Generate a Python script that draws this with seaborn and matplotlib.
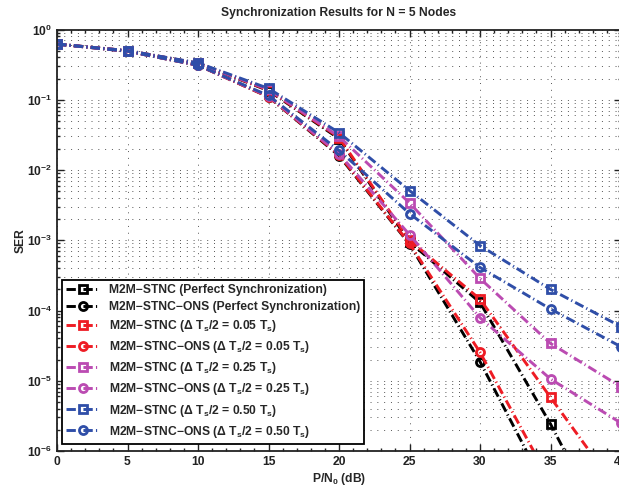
import numpy as np
import pandas as pd
import matplotlib
matplotlib.use('Agg')
import matplotlib.pyplot as plt
from matplotlib.ticker import LogLocator, MultipleLocator, FuncFormatter, NullFormatter
import seaborn as sns

# SER, one list per curve
snr_db = [0, 5, 10, 15, 20, 25, 30, 35, 40]
stnc_perfect = [0.62, 0.50, 0.33, 0.135, 0.028, 0.00095, 0.00013, 2.42e-6, 2.9e-8]
ons_perfect = [0.62, 0.49, 0.31, 0.110, 0.016, 0.00088, 1.87e-5, 2.2e-7, np.nan]
stnc_005 = [0.62, 0.50, 0.33, 0.137, 0.029, 0.0010, 0.000145, 5.8e-6, 2.4e-7]
ons_005 = [0.62, 0.49, 0.31, 0.110, 0.0165, 0.0009, 2.54e-5, 3.6e-7, np.nan]
stnc_025 = [0.62, 0.50, 0.33, 0.140, 0.030, 0.0034, 0.000286, 3.4e-5, 8.2e-6]
ons_025 = [0.62, 0.49, 0.31, 0.112, 0.017, 0.0012, 7.9e-5, 1.06e-5, 2.5e-6]
stnc_050 = [0.62, 0.50, 0.335, 0.145, 0.034, 0.0051, 0.00084, 0.0002, 5.9e-5]
ons_050 = [0.62, 0.49, 0.31, 0.115, 0.019, 0.0024, 0.00041, 0.000105, 3.05e-5]

labels = [
    'M2M\u2212STNC (Perfect Synchronization)',
    'M2M\u2212STNC\u2212ONS (Perfect Synchronization)',
    'M2M\u2212STNC (\u0394 T$_s$/2 = 0.05 T$_s$)',
    'M2M\u2212STNC\u2212ONS (\u0394 T$_s$/2 = 0.05 T$_s$)',
    'M2M\u2212STNC (\u0394 T$_s$/2 = 0.25 T$_s$)',
    'M2M\u2212STNC\u2212ONS (\u0394 T$_s$/2 = 0.25 T$_s$)',
    'M2M\u2212STNC (\u0394 T$_s$/2 = 0.50 T$_s$)',
    'M2M\u2212STNC\u2212ONS (\u0394 T$_s$/2 = 0.50 T$_s$)',
]
series = [stnc_perfect, ons_perfect, stnc_005, ons_005,
          stnc_025, ons_025, stnc_050, ons_050]
colors = ['#000000', '#000000', '#EE1C24', '#EE1C24',
          '#BB4BB2', '#BB4BB2', '#2F4EA8', '#2F4EA8']
markers = ['s', 'o', 's', 'o', 's', 'o', 's', 'o']

sns.set_style('ticks')
plt.rcParams.update({
    'font.family': ['Liberation Sans', 'DejaVu Sans'],
    'font.weight': 'bold',
    'font.size': 8.7,
    'mathtext.fontset': 'custom',
    'mathtext.rm': 'Liberation Sans:bold',
    'mathtext.it': 'Liberation Sans:bold',
    'mathtext.bf': 'Liberation Sans:bold',
    'mathtext.sf': 'Liberation Sans:bold',
})

fig = plt.figure(figsize=(6.19, 4.87), dpi=100)
ax = fig.add_axes([57 / 619, 36 / 487, 564 / 619, 421.5 / 487])

dash = (0, (3.2, 1.1, 0.4, 1.1))
for vals, lab, col, mk in zip(series, labels, colors, markers):
    df = pd.DataFrame({'snr': snr_db, 'ser': vals})
    sns.lineplot(data=df, x='snr', y='ser', ax=ax, color=col, label=lab,
                 marker=mk, markersize=5.2 if mk == 's' else 5.8,
                 markerfacecolor='none', markeredgecolor=col,
                 markeredgewidth=2.0, linewidth=2.1, linestyle=dash)

ax.set_yscale('log')
ax.set_xlim(0, 40)
ax.set_ylim(1e-6, 1)

ax.xaxis.set_major_locator(MultipleLocator(5))
ax.xaxis.set_minor_locator(MultipleLocator(1))
ax.yaxis.set_major_locator(LogLocator(base=10, numticks=10))
ax.yaxis.set_minor_locator(LogLocator(base=10, subs=np.arange(2, 10), numticks=20))
ax.yaxis.set_major_formatter(FuncFormatter(lambda v, p: r'$10^{%d}$' % round(np.log10(v))))
ax.yaxis.set_minor_formatter(NullFormatter())

ax.tick_params(which='both', direction='in', top=True, right=True,
               labelsize=8.7, width=1.0, colors='#222222')
ax.tick_params(which='major', length=5)
ax.tick_params(which='minor', length=2.5)
for s in ax.spines.values():
    s.set_linewidth(1.3)
    s.set_color('#222222')

grid_kw = dict(color='#555555', linestyle=(0, (1, 6)), linewidth=0.7)
ax.grid(True, which='major', axis='both', **grid_kw)
ax.grid(True, which='minor', axis='y', **grid_kw)
ax.set_axisbelow(True)

ax.set_xlabel('P/N$_0$ (dB)', fontsize=8.7, fontweight='bold', labelpad=2)
ax.set_ylabel('SER', fontsize=8.7, fontweight='bold', labelpad=0)
ax.set_title('Synchronization Results for N = 5 Nodes', fontsize=8.7,
             fontweight='bold', pad=10)

leg = ax.legend(loc='lower left', bbox_to_anchor=(0.009, 0.017),
                borderaxespad=0, fontsize=8.7, handlelength=2.7,
                handletextpad=0.8, labelspacing=0.42, fancybox=False,
                framealpha=1, edgecolor='black', borderpad=0.35)
leg.get_frame().set_linewidth(1.3)

fig.savefig('out.png', dpi=100, facecolor='white')
